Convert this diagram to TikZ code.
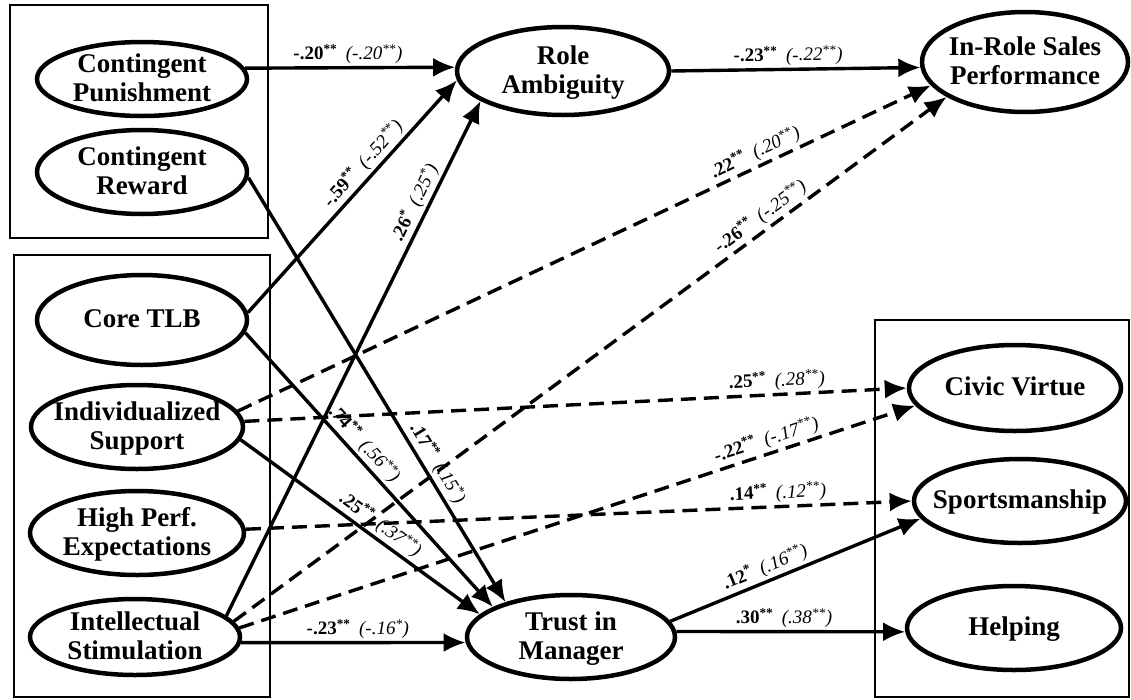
\documentclass[tikz,border=0pt]{standalone}
\usepackage{fontspec}
\setmainfont{Liberation Serif}
\usetikzlibrary{shapes.geometric,arrows.meta}
% text of an oval, set in a box of no size so the oval keeps its own size
\newcommand\olab[1]{\makebox[0pt]{\raisebox{-8pt}[0pt][0pt]{\begin{tabular}{@{}c@{}}#1\end{tabular}}}}
% path coefficient: estimate (bold) and second estimate (italic)
\newcommand\coef[4]{\textbf{#1}\textsuperscript{\textbf{#2}}\hspace{0.45em}\textit{(#3\textsuperscript{#4})}}
\begin{document}
\begin{tikzpicture}[x=1pt,y=-1pt,
  oval/.style={ellipse, draw, line width=4.5pt, fill=white, inner sep=0pt,
    font=\fontsize{27}{29}\selectfont\bfseries},
  link/.style={line width=3.4pt, -{Latex[length=22pt,width=19pt]}},
  dlink/.style={link, dash pattern=on 15pt off 8pt},
  cf/.style={font=\fontsize{19}{19}\selectfont, sloped, above, inner sep=2.5pt},
  grp/.style={draw, line width=2pt}]
\useasboundingbox (0,0) rectangle (1131,699);

% group frames
\draw[grp] (10,5) rectangle (268,238);
\draw[grp] (14,255) rectangle (270,697);
\draw[grp] (875,320) rectangle (1129,697);

% constructs
\node[oval, minimum width=210pt, minimum height=74pt] (cp) at (142,79) {\olab{Contingent\\Punishment}};
\node[oval, minimum width=210pt, minimum height=84pt] (cr) at (142,172) {\olab{Contingent\\Reward}};
\node[oval, minimum width=210pt, minimum height=90pt] (core) at (142,320) {\olab{Core TLB}};
\node[oval, minimum width=212pt, minimum height=84pt] (ind) at (137,427) {\olab{Individualized\\Support}};
\node[oval, minimum width=214pt, minimum height=84pt] (hpe) at (137,533) {\olab{High Perf.\\Expectations}};
\node[oval, minimum width=210pt, minimum height=76pt] (is) at (135,637) {\olab{Intellectual\\Stimulation}};
\node[oval, minimum width=212pt, minimum height=88pt] (ra) at (563,71) {\olab{Role\\Ambiguity}};
\node[oval, minimum width=206pt, minimum height=100pt] (irs) at (1025,62) {\olab{In-Role Sales\\Performance}};
\node[oval, minimum width=208pt, minimum height=84pt] (tm) at (571,637) {\olab{Trust in\\Manager}};
\node[oval, minimum width=212pt, minimum height=86pt] (cv) at (1015,388) {\olab{Civic Virtue}};
\node[oval, minimum width=212pt, minimum height=84pt] (sp) at (1020,501) {\olab{Sportsmanship}};
\node[oval, minimum width=214pt, minimum height=84pt] (hl) at (1014,628) {\olab{Helping}};

% paths into role ambiguity and in-role performance
\draw[link] (cp.6) -- node[cf, pos=0.49] {\coef{-.20}{**}{-.20}{**}} (ra.178);
\draw[link] (core.4) -- node[cf, pos=0.6] {\coef{-.59}{**}{-.52}{**}} (ra.185);
\draw[link] (is.13) -- node[cf, pos=0.79] {\coef{.26}{*}{.25}{*}} (ra.200);
\draw[link] (ra.0) -- node[cf, pos=0.47] {\coef{-.23}{**}{-.22}{**}} (irs.183);
\draw[dlink] (ind.9) -- node[cf, pos=0.755] {\coef{.22}{**}{.20}{**}} (irs.194);
\draw[dlink] (is.9) -- node[cf, pos=0.75] {\coef{-.26}{**}{-.25}{**}} (irs.204);

% paths into trust in manager
\draw[link] (cr.357) -- node[cf, pos=0.69] {\coef{.17}{**}{.15}{*}} (tm.152);
\draw[link] (core.353) -- node[cf, pos=0.44] {\coef{.74}{**}{.56}{**}} (tm.159);
\draw[link] (ind.353) -- node[cf, pos=0.55] {\coef{.25}{**}{.37}{**}} (tm.166);
\draw[link] (is.357) -- node[cf, pos=0.52] {\coef{-.23}{**}{-.16}{*}} (tm.183);

% paths into citizenship behaviours
\draw[dlink] (ind.3) -- node[cf, pos=0.805] {\coef{.25}{**}{.28}{**}} (cv.180);
\draw[dlink] (is.5) -- node[cf, pos=0.786] {\coef{-.22}{**}{-.17}{**}} (cv.190);
\draw[dlink] (hpe.2) -- node[cf, pos=0.8] {\coef{.14}{**}{.12}{**}} (sp.180);
\draw[link] (tm.9) -- node[cf, pos=0.4] {\coef{.12}{*}{.16}{**}} (sp.190);
\draw[link] (tm.3) -- node[cf, pos=0.47] {\coef{.30}{**}{.38}{**}} (hl.182);
\end{tikzpicture}
\end{document}
